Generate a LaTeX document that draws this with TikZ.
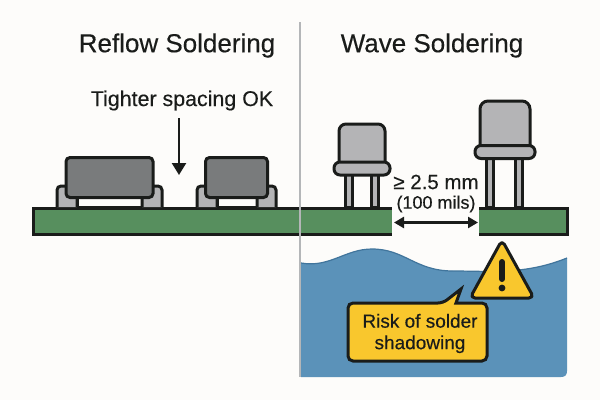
\documentclass[tikz,border=0pt]{standalone}
\usepackage{xcolor}
\usepackage{fontspec}
\setmainfont[FakeBold=0.3]{Liberation Sans}
\usetikzlibrary{arrows.meta}
\definecolor{paper}{HTML}{FDFCFA}
\definecolor{board}{HTML}{578F5E}
\definecolor{ink}{HTML}{1A1C1A}
\definecolor{bodydark}{HTML}{797B7C}
\definecolor{bodylight}{HTML}{B4B4B6}
\definecolor{water}{HTML}{5B92B9}
\definecolor{waterline}{HTML}{41759C}
\definecolor{warn}{HTML}{F9C72D}
\definecolor{divider}{HTML}{B4B6B8}
\begin{document}
\begin{tikzpicture}[
        x=1pt, y=-1pt,
        pcb/.style={draw=ink, line width=3pt},
        smd/.style={draw=ink, fill=bodydark, line width=3pt, rounded corners=4pt},
        pad/.style={draw=ink, fill=bodylight, line width=3pt},
        tht/.style={draw=ink, fill=bodylight, line width=3pt},
        title/.style={font=\fontsize{26}{30}\selectfont, text=ink},
        label/.style={font=\fontsize{18}{21}\selectfont, text=ink, inner sep=0pt},
        arrow/.style={-{Triangle[length=12pt,width=14pt]}, line width=2.4pt, draw=ink},
        gaparrow/.style={{Triangle[length=10pt,width=11pt]}-{Triangle[length=10pt,width=11pt]}, line width=2.4pt, draw=ink}
    ]
        \useasboundingbox (0,0) rectangle (600,400);
        \fill[paper] (0,0) rectangle (600,400);

        % Titles
        \node[title] (reflowtitle) at (177,45.5) {Reflow Soldering};
        \node[title] (wavetitle) at (432,45.5) {Wave Soldering};

        % Water
        \draw[draw=none, fill=water] (301,263) .. controls (330,268) and (345,249) .. (372,249)
            .. controls (405,249) and (415,271) .. (453,271)
            .. controls (490,271) and (525,275) .. (567,258)
            -- (567,371) .. controls (567,375) and (565,377) .. (561,377) -- (301,377) -- cycle;
        \draw[waterline, line width=1.2pt] (301,263) .. controls (330,268) and (345,249) .. (372,249)
            .. controls (405,249) and (415,271) .. (453,271)
            .. controls (490,271) and (525,275) .. (567,258);

        % Reflow side
        \fill[board] (33,208) rectangle (299,234);
        \draw[pcb] (299,208) -- (33,208) -- (33,234) -- (299,234);
        \draw[ink, line width=3pt, fill=paper] (77,197) rectangle (142,207);
        \draw[pad, rounded corners=4pt] (57,207) -- (57,186) -- (77,186) -- (77,207);
        \draw[pad, rounded corners=4pt] (162,207) -- (162,186) -- (142,186) -- (142,207);
        \node[smd, rectangle, minimum width=87pt, minimum height=40pt, inner sep=0pt] (chip1) at (109.5,177.5) {};
        \draw[ink, line width=3pt, fill=paper] (217,197) rectangle (257,207);
        \draw[pad, rounded corners=4pt] (197,207) -- (197,186) -- (217,186) -- (217,207);
        \draw[pad, rounded corners=4pt] (276,207) -- (276,186) -- (257,186) -- (257,207);
        \node[smd, rectangle, minimum width=62pt, minimum height=40pt, inner sep=0pt] (chip2) at (236.5,177.5) {};

        \node[label, font=\fontsize{21.4}{25}\selectfont] (spacing) at (182,100.5) {Tighter spacing OK};
        \coordinate (gaptop) at (179,118);
        \coordinate (gaptip) at (179,175);
        \draw[arrow] (gaptop) -- (gaptip);

        % Wave side
        \fill[board] (301,208) rectangle (392,234);
        \draw[pcb] (301,208) -- (392,208);
        \draw[pcb] (301,234) -- (392,234);
        \fill[board] (479,208) rectangle (567,234);
        \draw[pcb] (479,208) -- (567,208) -- (567,234) -- (479,234);
        \foreach \px in {349,375} {
            \draw[pad, line width=2.4pt] (\px-3.5,175) rectangle (\px+3.5,207);
        }
        \draw[tht, rounded corners=7pt] (339,165) -- (339,124) -- (385,124) -- (385,165);
        \node[tht, rectangle, rounded corners=6pt, minimum width=56pt, minimum height=13pt, inner sep=0pt] (can1) at (362,168.5) {};
        \foreach \px in {490,519} {
            \draw[pad, line width=2.4pt] (\px-3.5,158) rectangle (\px+3.5,207);
        }
        \draw[tht, rounded corners=8pt] (480,147) -- (480,101) -- (530,101) -- (530,147);
        \node[tht, rectangle, rounded corners=6pt, minimum width=60pt, minimum height=13pt, inner sep=0pt] (can2) at (505,152) {};

        % Divider
        \draw[divider, line width=2.4pt] (300,22) -- (300,377);

        \node[label, font=\fontsize{20.5}{24}\selectfont] (gapval) at (436,182) {≥ 2.5 mm};
        \node[label] (gapmils) at (436,204) {(100 mils)};
        \coordinate (gapleft) at (394,222.5);
        \coordinate (gapright) at (478,222.5);
        \draw[gaparrow] (gapleft) -- (gapright);

        % Warning
        \draw[draw=ink, fill=warn, line width=3pt, line join=round, rounded corners=5pt]
            (502,240) -- (534,298) -- (470,298) -- cycle;
        \draw[ink, line width=6pt, line cap=round] (502,262) -- (502,279);
        \fill[ink] (502,288) circle (3.4pt);

        % Callout
        \draw[draw=ink, fill=warn, line width=3pt, rounded corners=5pt]
            (348,303) -- (443,303) [sharp corners] -- (461,289) -- (456,303) [rounded corners=5pt] -- (487,303)
            -- (487,361) -- (348,361) -- cycle;
        \node[label, align=center, font=\fontsize{19}{21.5}\selectfont] (riskbox) at (420,333.5) {Risk of solder\\shadowing};
    \end{tikzpicture}
\end{document}
